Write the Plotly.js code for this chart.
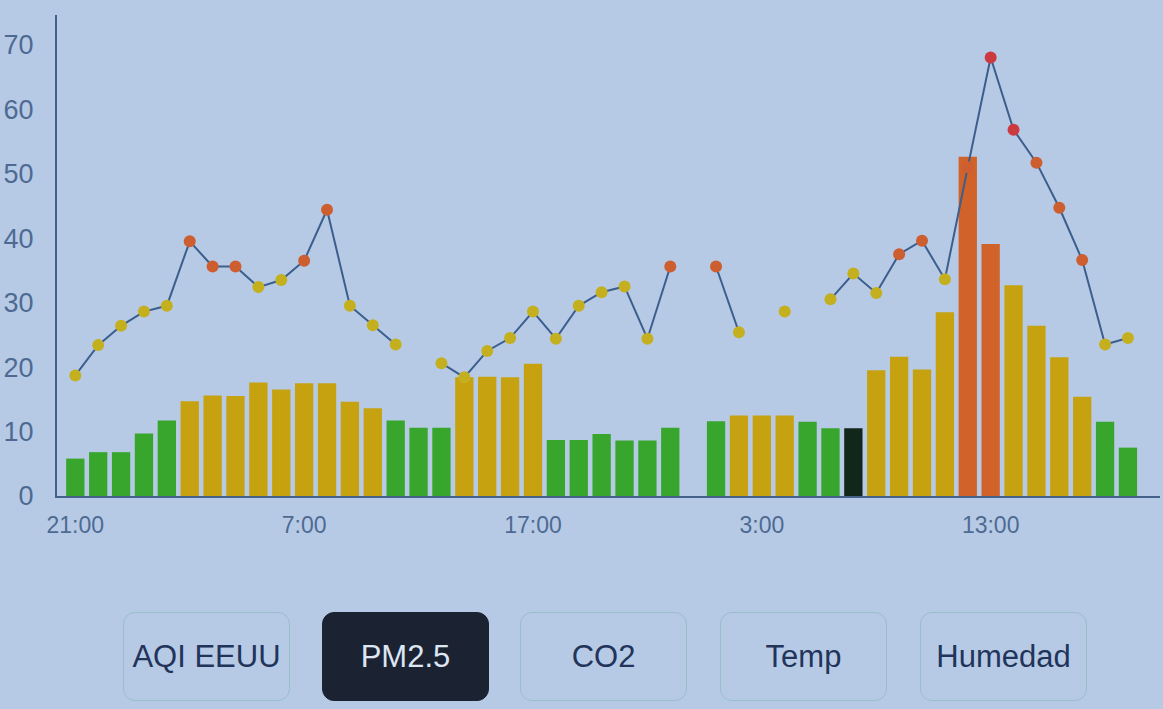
<!DOCTYPE html>
<html>
<head>
<meta charset="utf-8">
<script src="https://cdn.plot.ly/plotly-3.0.1.min.js"></script>
<style>
  html, body { margin: 0; padding: 0; background: #b6cae6; }
  #wrap { position: relative; width: 1163px; height: 709px; overflow: hidden; background: #b6cae6; }
  #chart { position: absolute; left: 0; top: 0; width: 1163px; height: 709px; }
  .btn { position: absolute; top: 612px; height: 89px; box-sizing: border-box;
         border: 1.5px solid rgba(150,188,196,0.9); border-radius: 12px;
         display: flex; align-items: center; justify-content: center;
         font-family: "Liberation Sans", Arial, sans-serif; font-size: 31px; color: #22345a; }
  .btn.sel { background: #1b2232; border-color: #1b2232; color: #dde6f2; }
</style>
</head>
<body>
<div id="wrap">
  <div id="chart"></div>
  <div id="buttons"></div>
</div>
<script>
// ---- data ----
const hourLabels = ["21:00","22:00","23:00","0:00","1:00","2:00","3:00","4:00","5:00","6:00",
  "7:00","8:00","9:00","10:00","11:00","12:00","13:00","14:00","15:00","16:00",
  "17:00","18:00","19:00","20:00","21:00","22:00","23:00","0:00","1:00","2:00",
  "3:00","4:00","5:00","6:00","7:00","8:00","9:00","10:00","11:00","12:00",
  "13:00","14:00","15:00","16:00","17:00","18:00","19:00"];
const tickIndex = [0, 10, 20, 30, 40];
const tickText = ["21:00", "7:00", "17:00", "3:00", "13:00"];

// hourly PM2.5 (bars)
const pm25Hourly = [5.8, 6.8, 6.8, 9.7, 11.7, 14.7, 15.6, 15.5, 17.6, 16.5,
  17.5, 17.5, 14.6, 13.6, 11.7, 10.6, 10.6, 18.4, 18.5, 18.4,
  20.5, 8.7, 8.7, 9.6, 8.6, 8.6, 10.6, null, 11.6, 12.5,
  12.5, 12.5, 11.5, 10.5, 10.5, 19.5, 21.6, 19.6, 28.5, 52.6,
  39.1, 32.7, 26.4, 21.5, 15.4, 11.5, 7.5];

// line series (dots)
const pm25Line = [18.7, 23.4, 26.4, 28.6, 29.5, 39.5, 35.6, 35.6, 32.4, 33.5,
  36.5, 44.4, 29.5, 26.5, 23.5, null, 20.6, 18.4, 22.5, 24.5,
  28.6, 24.4, 29.5, 31.6, 32.5, 24.4, 35.6, null, 35.6, 25.4,
  null, 28.6, null, 30.5, 34.5, 31.5, 37.5, 39.6, 33.6, 51.0,
  68.0, 56.8, 51.7, 44.7, 36.6, 23.5, 24.5];

const selectedIndex = 34;
const buttonLabels = ["AQI EEUU", "PM2.5", "CO2", "Temp", "Humedad"];
const selectedButton = "PM2.5";

// ---- styling helpers ----
function barColor(v, i) {
  if (i === selectedIndex) return "#13261a";
  if (v === null) return "rgba(0,0,0,0)";
  if (v <= 12) return "#38a62c";
  if (v < 35.5) return "#c6a210";
  if (v < 55.5) return "#d0622a";
  return "#c83a3a";
}
function dotColor(v) {
  if (v === null) return "rgba(0,0,0,0)";
  if (v < 35.5) return "#c4b01e";
  if (v < 55.5) return "#cc5e30";
  return "#cc3a40";
}

const xs = hourLabels.map((_, i) => i);

const bars = {
  type: "bar", x: xs, y: pm25Hourly,
  marker: { color: pm25Hourly.map(barColor), line: { width: 0 } },
  hoverinfo: "skip", showlegend: false
};
const line = {
  type: "scatter", mode: "lines+markers", x: xs, y: pm25Line,
  connectgaps: false,
  line: { color: "#3b5e8c", width: 2 },
  marker: { size: 12, color: pm25Line.map(dotColor), line: { width: 0 } },
  hoverinfo: "skip", showlegend: false
};

const axisFont = { family: "Liberation Sans, Arial, sans-serif", color: "#4e6a92" };

const layout = {
  width: 1163, height: 709,
  margin: { l: 57, r: 3, t: 15, b: 213 },
  paper_bgcolor: "rgba(0,0,0,0)", plot_bgcolor: "rgba(0,0,0,0)",
  bargap: 0.2,
  xaxis: {
    range: [-0.8, 47.4], showgrid: false, zeroline: false,
    showline: true, linecolor: "#45618a", linewidth: 2,
    tickmode: "array", tickvals: tickIndex, ticktext: tickText,
    ticks: "outside", ticklen: 7, tickcolor: "rgba(0,0,0,0)",
    tickfont: Object.assign({ size: 23 }, axisFont)
  },
  yaxis: {
    range: [0, 74.6], showgrid: false, zeroline: false,
    showline: true, linecolor: "#45618a", linewidth: 2,
    dtick: 10, tick0: 0,
    ticks: "outside", ticklen: 16, tickcolor: "rgba(0,0,0,0)",
    tickfont: Object.assign({ size: 27 }, axisFont)
  }
};

Plotly.newPlot("chart", [bars, line], layout, { displayModeBar: false, staticPlot: true });

// ---- bottom selector buttons ----
const btnLeft = [123, 322, 520, 720, 920];
const btnWidth = 167;
const holder = document.getElementById("buttons");
buttonLabels.forEach((lab, k) => {
  const d = document.createElement("div");
  d.className = "btn" + (lab === selectedButton ? " sel" : "");
  d.style.left = btnLeft[k] + "px";
  d.style.width = btnWidth + "px";
  d.textContent = lab;
  holder.appendChild(d);
});
</script>
</body>
</html>
